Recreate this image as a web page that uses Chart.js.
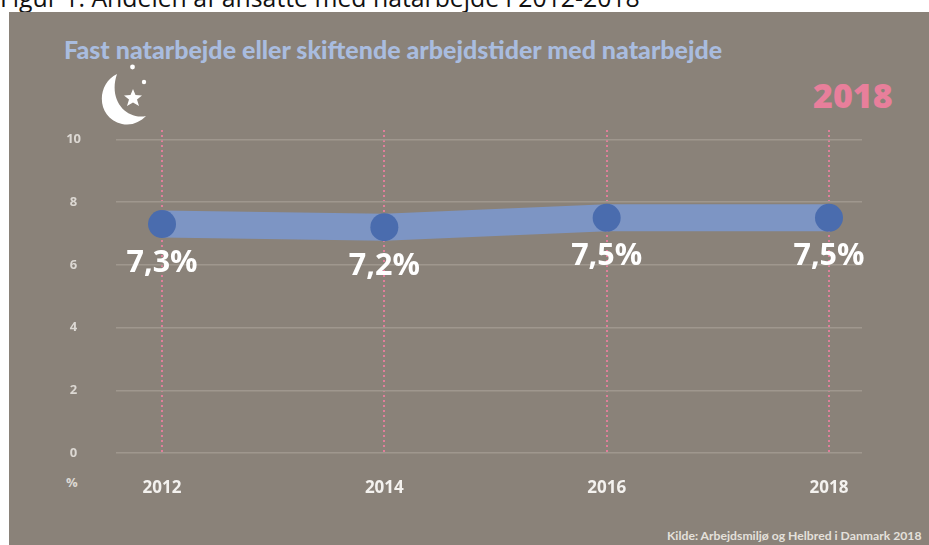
<!DOCTYPE html>
<html lang="da">
<head>
<meta charset="utf-8">
<title>Natarbejde</title>
<script src="https://cdn.jsdelivr.net/npm/chart.js@4"></script>
<style>
    html, body { margin: 0; padding: 0; background: #fff; overflow: hidden; }
    #wrap { position: relative; width: 929px; height: 545px; overflow: hidden; }
    #wrap div { position: absolute; white-space: nowrap; }
    #caption { left: 0; top: -20px; font: 24.8px "Open Sans", sans-serif; color: #111; }
    #panel { left: 9px; top: 12px; right: 0; bottom: 0; background: #8a8279; }
    #heading { left: 64px; top: 34px; font: 900 25px Lato, sans-serif; color: #a9bcdf; }
    #year { left: 813px; top: 73px; font: 800 34px "Open Sans", sans-serif; color: #e87f9b; line-height: 44px; }
    #source { left: 667px; top: 528px; font: 700 12.2px Lato, sans-serif; color: #e4e0db; }
    #unit { left: 66px; top: 473px; font: 700 13px "Open Sans", sans-serif; color: #dcd8d3; }
    #moon { position: absolute; left: 98px; top: 62px; }
    canvas { position: absolute; left: 0; top: 0; }
</style>
</head>
<body>
<div id="wrap">
    <div id="caption">Figur 1: Andelen af ansatte med natarbejde i 2012-2018</div>
    <div id="panel"></div>
    <div id="heading">Fast natarbejde eller skiftende arbejdstider med natarbejde</div>
    <div id="year">2018</div>
    <svg id="moon" width="54" height="66" viewBox="0 0 54 66">
        <path d="M19 12 C-2 22 -2 56 24 62 C34 64 42 60 48 54 C28 58 10 38 19 12 Z" fill="#fff"/>
        <path d="M35 27 L37.5 33 L44 33.5 L39 37.5 L41 44 L35 40.5 L29 44 L31 37.5 L26 33.5 L32.5 33 Z" fill="#fff"/>
        <circle cx="34.5" cy="5" r="2.4" fill="#fff"/>
        <circle cx="46" cy="20" r="2.2" fill="#fff"/>
    </svg>
    <div id="unit">%</div>
    <div id="source">Kilde: Arbejdsmiljø og Helbred i Danmark 2018</div>
    <canvas id="nightChart" width="929" height="545"></canvas>
</div>
<script>
const years = [2012, 2014, 2016, 2018];
const shares = [7.3, 7.2, 7.5, 7.5];
const yTicks = [0, 2, 4, 6, 8, 10];

const valueLabels = {
    id: "valueLabels",
    afterDatasetsDraw(chart) {
        const ctx = chart.ctx;
        const pts = chart.getDatasetMeta(0).data;
        ctx.save();
        ctx.font = "700 30.5px 'Open Sans', sans-serif";
        ctx.textAlign = "center";
        ctx.textBaseline = "middle";
        ctx.fillStyle = "#fff";
        pts.forEach((p, i) => {
            ctx.fillText(shares[i].toFixed(1).replace(".", ",") + "%", p.x, p.y + 39);
        });
        ctx.restore();
    }
};

new Chart(document.getElementById("nightChart"), {
    type: "line",
    data: {
        datasets: [{
            data: years.map((y, i) => ({ x: y, y: shares[i] })),
            borderColor: "#7d95c4",
            borderWidth: 27,
            borderCapStyle: "butt",
            tension: 0,
            pointRadius: 14,
            pointBackgroundColor: "#4a6cae",
            pointBorderWidth: 0
        }]
    },
    options: {
        responsive: false,
        animation: false,
        layout: { padding: { top: 130, right: 67, left: 0, bottom: 0 } },
        plugins: { legend: { display: false }, tooltip: { enabled: false } },
        scales: {
            x: {
                type: "linear",
                min: 2011.586,
                max: 2018.297,
                afterBuildTicks: axis => { axis.ticks = years.map(v => ({ value: v })); },
                afterFit: axis => { axis.height = 92; },
                border: { display: false, dash: [2, 3] },
                grid: { color: "#e07f9b", lineWidth: 2, drawTicks: false },
                ticks: {
                    padding: 25,
                    color: "#f4f2ef",
                    font: { family: "'Open Sans'", size: 17, weight: "700" },
                    callback: v => String(v),
                    maxRotation: 0
                }
            },
            y: {
                min: 0,
                max: 10.3,
                afterBuildTicks: axis => { axis.ticks = yTicks.map(v => ({ value: v })); },
                afterFit: axis => { axis.width = 116; },
                border: { display: false },
                grid: { color: "#9f978e", lineWidth: 1.5, drawTicks: false },
                ticks: {
                    padding: 35,
                    crossAlign: "center",
                    color: "#dcd8d3",
                    font: { family: "'Open Sans'", size: 13, weight: "700" }
                }
            }
        }
    },
    plugins: [valueLabels]
});
</script>
</body>
</html>
